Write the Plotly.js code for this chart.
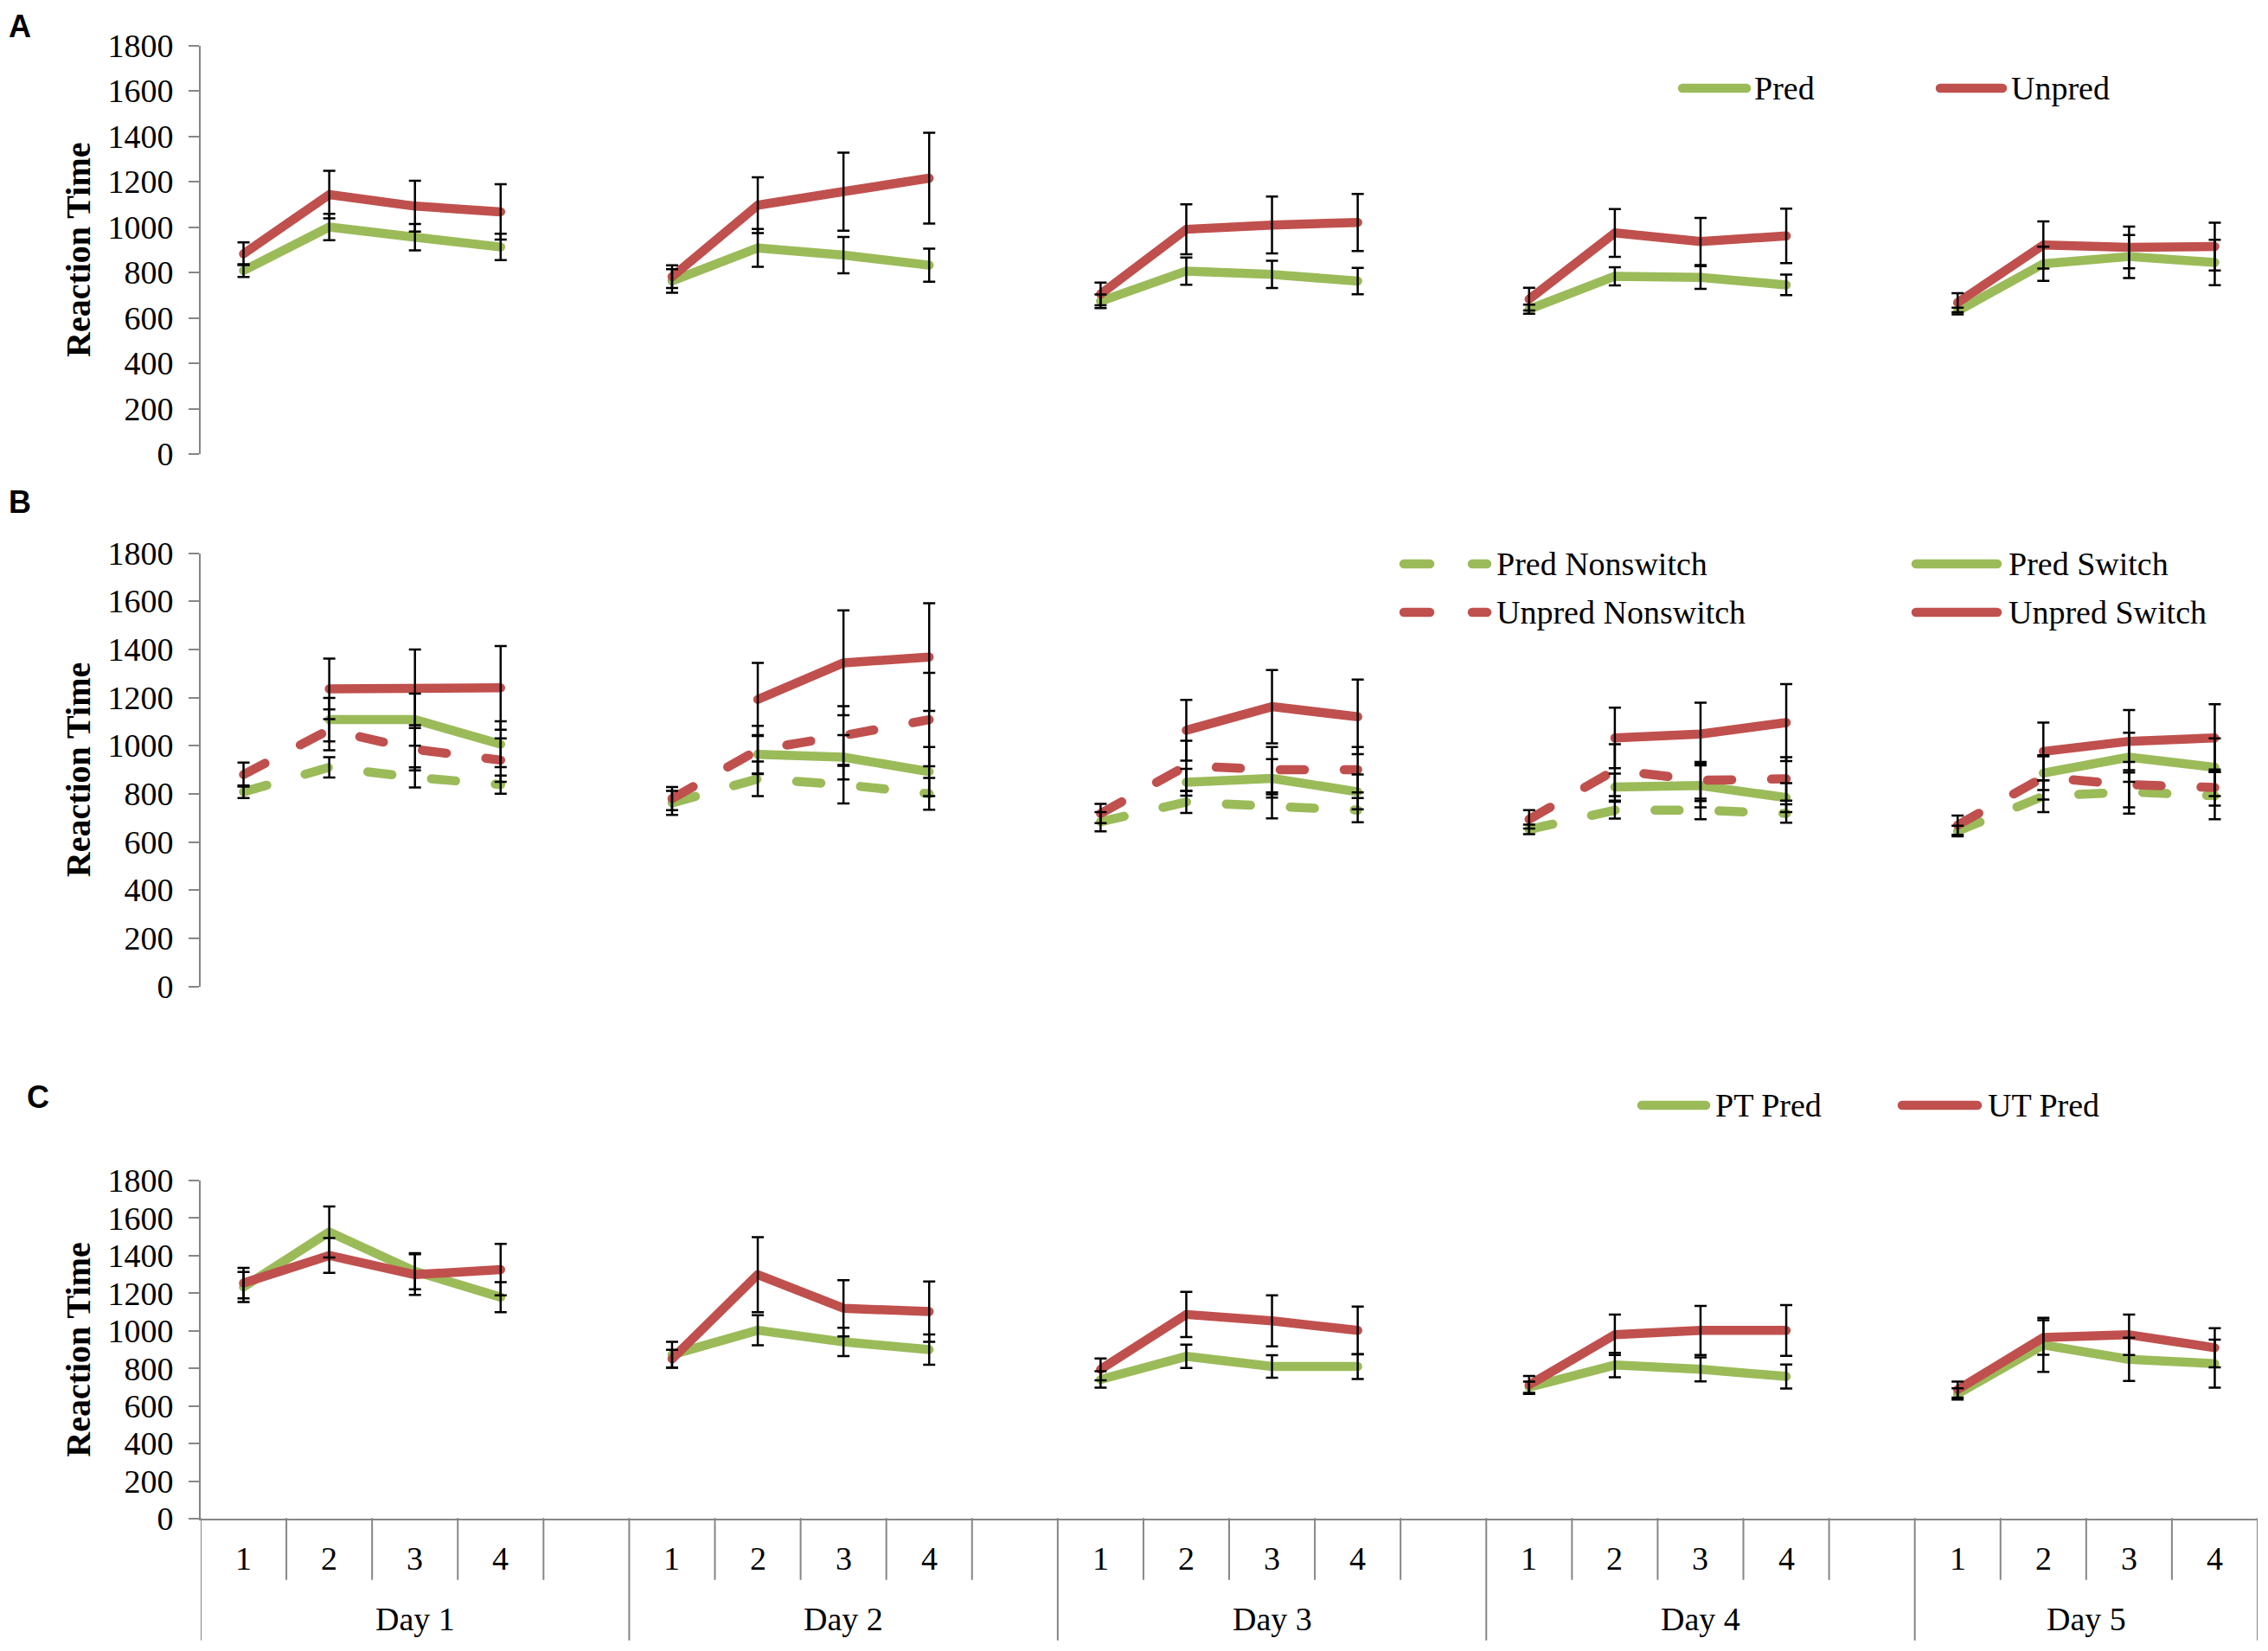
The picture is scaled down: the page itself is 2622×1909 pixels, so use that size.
<!DOCTYPE html>
<html>
<head>
<meta charset="utf-8">
<title>Reaction Time by Day and Trial</title>
<script src="https://cdn.plot.ly/plotly-3.0.1.min.js"></script>
<style>
    html, body { margin: 0; padding: 0; background: #ffffff; }
    #chart { width: 2622px; height: 1909px; }
    /* Excel-style rounded line ends and dashes */
    .scatterlayer .js-line, .shapelayer path { stroke-linecap: round; stroke-linejoin: round; }
</style>
</head>
<body>
<div id="chart"></div>
<script>
// Categories
const days = ['Day 1', 'Day 2', 'Day 3', 'Day 4', 'Day 5'];
const trials = ['1', '2', '3', '4'];

// Panel A: Pred vs Unpred (4 values per day)
const predA      = [808, 1000, 955, 912,   762, 908, 876, 832,   673, 806, 791, 762,   638, 783, 778, 745,   630, 838, 870, 844];
const predAErr   = [28, 58, 58, 58,        52, 83, 80, 73,       30, 60, 60, 58,       20, 40, 50, 45,       15, 75, 95, 100];
const unpredA    = [882, 1143, 1092, 1067, 781, 1096, 1156, 1215, 705, 990, 1009, 1020, 682, 974, 936, 961,  667, 921, 910, 914];
const unpredAErr = [50, 105, 112, 122,     50, 123, 172, 200,    50, 110, 125, 126,    50, 105, 104, 120,    42, 104, 92, 105];

// Panel B: nonswitch / switch trials (no switch value on trial 1)
const predNonB      = [808, 910, 868, 838,   762, 862, 838, 800,   684, 766, 748, 732,   652, 732, 732, 718,   645, 790, 808, 792];
const predNonBErr   = [26, 42, 42, 38,       50, 72, 78, 66,       40, 46, 50, 50,       20, 35, 38, 38,       22, 66, 90, 98];
const predSwB       = [null, 1108, 1108, 1006, null, 964, 952, 892, null, 848, 864, 808, null, 828, 834, 784, null, 886, 952, 910];
const predSwBErr    = [null, 90, 108, 95,    null, 80, 92, 102,    null, 56, 80, 72,     null, 56, 90, 60,     null, 70, 102, 120];
const unpredNonB    = [880, 1066, 985, 940,  780, 982, 1042, 1108, 718, 916, 900, 900,   694, 898, 856, 862,   670, 868, 838, 826];
const unpredNonBErr = [50, 85, 88, 90,       48, 100, 122, 194,    40, 104, 94, 94,      38, 108, 76, 90,      40, 92, 94, 75];
const unpredSwB     = [null, 1236, 1242, 1240, null, 1192, 1344, 1368, null, 1064, 1162, 1120, null, 1032, 1048, 1096, null, 976, 1018, 1032];
const unpredSwBErr  = [null, 126, 157, 174,  null, 152, 218, 224,  null, 126, 152, 155,  null, 126, 130, 160,  null, 120, 130, 140];

// Panel C: PT Pred vs UT Pred
const ptPred    = [1233, 1526, 1317, 1179, 873, 1003, 941, 900,   741, 864, 810, 810,    700, 818, 795, 757,   664, 925, 848, 825];
const ptPredErr = [80, 136, 96, 80,        68, 80, 75, 80,        44, 62, 60, 66,        30, 65, 64, 64,       30, 144, 115, 128];
const utPred    = [1254, 1401, 1299, 1326, 851, 1299, 1120, 1102, 795, 1087, 1053, 1002, 712, 979, 1002, 1002, 687, 964, 979, 910];
const utPredErr = [81, 93, 108, 137,       48, 200, 150, 160,     58, 120, 136, 127,     48, 108, 131, 135,    43, 92, 108, 104];

// Series names (legend text)
const namesA = ['Pred', 'Unpred'];
const namesB = ['Pred Nonswitch', 'Pred Switch', 'Unpred Nonswitch', 'Unpred Switch'];
const namesC = ['PT Pred', 'UT Pred'];

// Styling
const GREEN = '#9BBB59';
const RED = '#C0504D';
const AXIS_GRAY = '#868686';
const SERIF = '"Liberation Serif", "Times New Roman", serif';
const SANS = '"Liberation Sans", Arial, sans-serif';
const LINE_W = 10.5;
const DASH = '28px,46px';
const TXT = 38;

const W = 2622, H = 1909, LEFT = 232, RIGHT = 12;
const SLOTS_PER_DAY = trials.length + 1;   // one empty slot after each day (not after the last)
const N_SLOTS = days.length * SLOTS_PER_DAY - 1;
const X_RANGE = [0, N_SLOTS];

// pixel -> paper helpers (for legend/labels outside the data area)
const px = v => (v - LEFT) / (W - LEFT - RIGHT);
const py = v => 1 - v / H;

function slotX(d, t) { return d * SLOTS_PER_DAY + t + 0.5; }

// x/y arrays with a gap between days so lines break
function seriesXY(values) {
    const x = [], y = [];
    days.forEach((day, d) => {
        trials.forEach((tr, t) => {
            x.push(slotX(d, t));
            y.push(values[d * trials.length + t]);
        });
        x.push(null);
        y.push(null);
    });
    return { x, y };
}

function lineTrace(values, color, dash, xa, ya) {
    const xy = seriesXY(values);
    return {
        x: xy.x, y: xy.y, xaxis: xa, yaxis: ya,
        type: 'scatter', mode: 'lines', connectgaps: false,
        line: { color: color, width: LINE_W, dash: dash },
        showlegend: false, hoverinfo: 'skip'
    };
}

function errorTrace(values, errs, xa, ya) {
    const xy = seriesXY(values);
    return {
        x: xy.x, y: xy.y, xaxis: xa, yaxis: ya,
        type: 'scatter', mode: 'markers',
        marker: { size: 1, color: 'rgba(0,0,0,0)' },
        error_y: { type: 'data', array: seriesXY(errs).y, symmetric: true, color: '#000000', thickness: 2.5, width: 7 },
        showlegend: false, hoverinfo: 'skip'
    };
}

const traces = [
    // A
    lineTrace(predA, GREEN, 'solid', 'x', 'y'),
    lineTrace(unpredA, RED, 'solid', 'x', 'y'),
    // B
    lineTrace(predNonB, GREEN, DASH, 'x2', 'y2'),
    lineTrace(predSwB, GREEN, 'solid', 'x2', 'y2'),
    lineTrace(unpredNonB, RED, DASH, 'x2', 'y2'),
    lineTrace(unpredSwB, RED, 'solid', 'x2', 'y2'),
    // C
    lineTrace(ptPred, GREEN, 'solid', 'x3', 'y3'),
    lineTrace(utPred, RED, 'solid', 'x3', 'y3'),
    // error bars drawn on top of the lines
    errorTrace(predA, predAErr, 'x', 'y'),
    errorTrace(unpredA, unpredAErr, 'x', 'y'),
    errorTrace(predNonB, predNonBErr, 'x2', 'y2'),
    errorTrace(predSwB, predSwBErr, 'x2', 'y2'),
    errorTrace(unpredNonB, unpredNonBErr, 'x2', 'y2'),
    errorTrace(unpredSwB, unpredSwBErr, 'x2', 'y2'),
    errorTrace(ptPred, ptPredErr, 'x3', 'y3'),
    errorTrace(utPred, utPredErr, 'x3', 'y3')
];

function yAxis(domain, anchor) {
    return {
        domain: domain, anchor: anchor, range: [0, 1800], tick0: 0, dtick: 200,
        showline: true, linecolor: AXIS_GRAY, linewidth: 2,
        ticks: 'outside', ticklen: 12, tickwidth: 2, tickcolor: AXIS_GRAY,
        ticklabelstandoff: 10,
        showgrid: false, zeroline: false, fixedrange: true,
        tickfont: { family: SERIF, size: TXT, color: '#000000' },
        title: { text: 'Reaction Time', standoff: 7, font: { family: SERIF, size: 40, color: '#000000', weight: 'bold' } }
    };
}

function hiddenX(anchor) {
    return { domain: [0, 1], anchor: anchor, range: X_RANGE, visible: false, fixedrange: true };
}

// Category axis for panel C: dividers + labels
const shapes = [];
const annotations = [];
const AXIS_Y = py(1756);
const LONG_Y = py(1896);
const SHORT_Y = py(1826);
function divider(x, yEnd) {
    shapes.push({ type: 'line', xref: 'x3', yref: 'paper', x0: x, x1: x, y0: AXIS_Y, y1: yEnd,
        line: { color: AXIS_GRAY, width: 2 } });
}
days.forEach((day, d) => {
    const start = d * SLOTS_PER_DAY;
    const slots = d < days.length - 1 ? SLOTS_PER_DAY : trials.length;
    divider(start, LONG_Y);
    for (let s = 1; s < slots; s++) divider(start + s, SHORT_Y);
    trials.forEach((tr, t) => {
        annotations.push({ xref: 'x3', yref: 'paper', x: slotX(d, t), y: py(1802), text: tr, showarrow: false,
            xanchor: 'center', yanchor: 'middle', font: { family: SERIF, size: TXT, color: '#000000' } });
    });
    annotations.push({ xref: 'x3', yref: 'paper', x: start + slots / 2, y: py(1872), text: day, showarrow: false,
        xanchor: 'center', yanchor: 'middle', font: { family: SERIF, size: TXT, color: '#000000' } });
});
divider(N_SLOTS, LONG_Y);

// Legends (drawn as in the original Excel figure)
function legendItem(name, color, dash, x0, x1, textX, rowY) {
    shapes.push({ type: 'line', xref: 'paper', yref: 'paper', x0: px(x0), x1: px(x1), y0: py(rowY), y1: py(rowY),
        line: { color: color, width: LINE_W, dash: dash } });
    annotations.push({ xref: 'paper', yref: 'paper', x: px(textX), y: py(rowY), text: name, showarrow: false,
        xanchor: 'left', yanchor: 'middle', font: { family: SERIF, size: TXT, color: '#000000' } });
}
legendItem(namesA[0], GREEN, 'solid', 1945, 2019, 2026, 102);
legendItem(namesA[1], RED, 'solid', 2243, 2315, 2323, 102);
legendItem(namesB[0], GREEN, '30px,49px', 1623, 1719, 1728, 652);
legendItem(namesB[1], GREEN, 'solid', 2215, 2309, 2320, 652);
legendItem(namesB[2], RED, '30px,49px', 1623, 1719, 1728, 708);
legendItem(namesB[3], RED, 'solid', 2215, 2309, 2320, 708);
legendItem(namesC[0], GREEN, 'solid', 1898, 1972, 1981, 1278);
legendItem(namesC[1], RED, 'solid', 2199, 2286, 2296, 1278);

// Panel letters
[['A', 23, 30], ['B', 23, 580], ['C', 44, 1268]].forEach(p => {
    annotations.push({ xref: 'paper', yref: 'paper', x: px(p[1]), y: py(p[2]), text: p[0], showarrow: false,
        xanchor: 'center', yanchor: 'middle', font: { family: SANS, size: 36, color: '#000000', weight: 'bold' } });
});

const layout = {
    width: W, height: H,
    margin: { l: LEFT, r: RIGHT, t: 0, b: 0, pad: 0 },
    paper_bgcolor: '#ffffff', plot_bgcolor: '#ffffff',
    showlegend: false,
    xaxis: hiddenX('y'),
    xaxis2: hiddenX('y2'),
    xaxis3: {
        domain: [0, 1], anchor: 'y3', range: X_RANGE, fixedrange: true,
        showline: true, linecolor: AXIS_GRAY, linewidth: 2,
        ticks: '', showticklabels: false, showgrid: false, zeroline: false
    },
    yaxis: yAxis([py(525), py(52.5)], 'x'),
    yaxis2: yAxis([py(1140.5), py(639.5)], 'x2'),
    yaxis3: yAxis([py(1756), py(1365)], 'x3'),
    shapes: shapes,
    annotations: annotations
};

Plotly.newPlot('chart', traces, layout, { displayModeBar: false, staticPlot: true });
</script>
</body>
</html>
